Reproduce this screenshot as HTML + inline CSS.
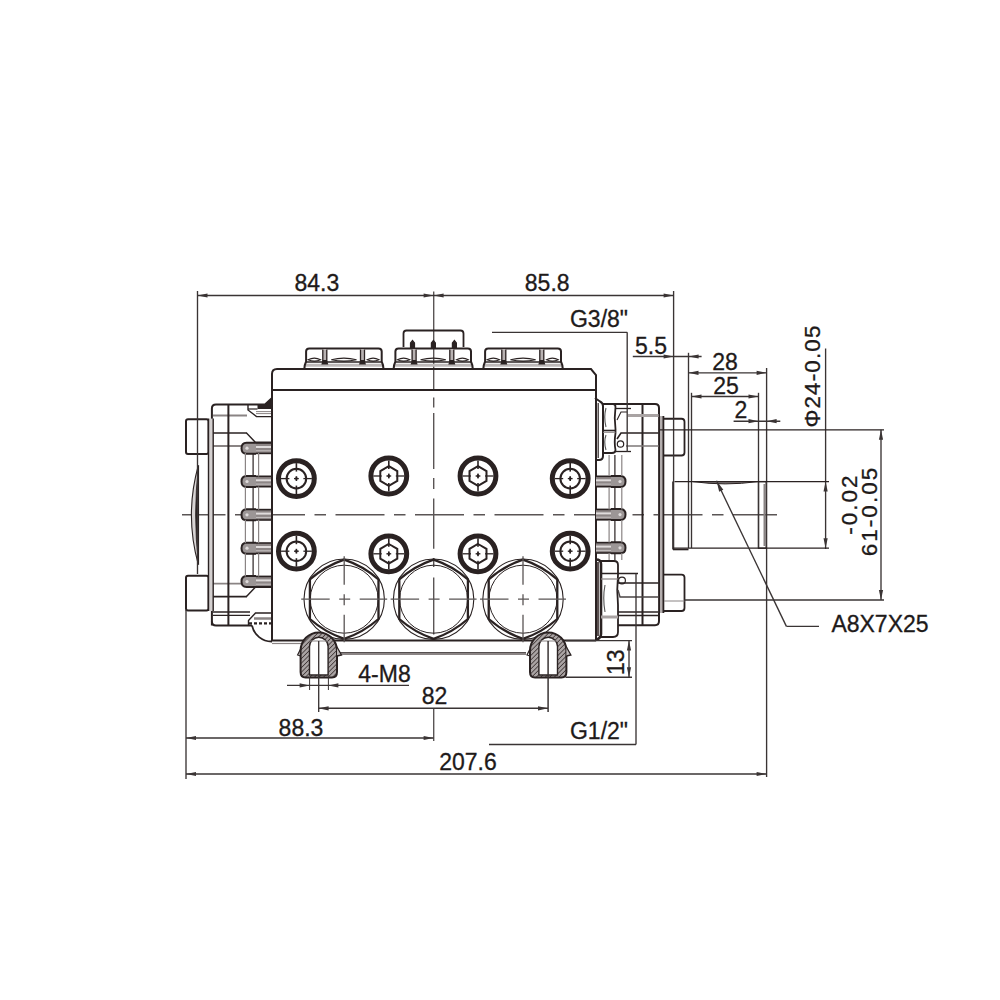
<!DOCTYPE html>
<html><head><meta charset="utf-8"><style>
html,body{margin:0;padding:0;background:#fff;width:1000px;height:1000px;overflow:hidden}
svg{display:block;font-family:"Liberation Sans",sans-serif}
</style></head><body>
<svg width="1000" height="1000" viewBox="0 0 1000 1000">
<rect width="1000" height="1000" fill="#fff"/>
<line x1="182.00" y1="514.80" x2="777.00" y2="514.80" stroke="#5a5555" stroke-width="1.4" stroke-dasharray="49 9.5 11.5 9.5" stroke-dashoffset="5.5"/>
<line x1="433.70" y1="291.60" x2="433.70" y2="390.00" stroke="#5a5555" stroke-width="1.4" />
<line x1="433.70" y1="397.50" x2="433.70" y2="407.50" stroke="#5a5555" stroke-width="1.4" />
<line x1="433.70" y1="413.00" x2="433.70" y2="469.00" stroke="#5a5555" stroke-width="1.4" />
<line x1="433.70" y1="478.00" x2="433.70" y2="489.00" stroke="#5a5555" stroke-width="1.4" />
<line x1="433.70" y1="498.40" x2="433.70" y2="548.80" stroke="#5a5555" stroke-width="1.4" />
<line x1="433.70" y1="558.00" x2="433.70" y2="567.00" stroke="#5a5555" stroke-width="1.4" />
<line x1="433.70" y1="577.40" x2="433.70" y2="634.40" stroke="#5a5555" stroke-width="1.4" />
<line x1="433.70" y1="708.40" x2="433.70" y2="741.00" stroke="#5a5555" stroke-width="1.4" />
<path d="M272 641 L272 374 Q272 369 277 369 L591 369 L596 375 L596 641" stroke="#2a2222" stroke-width="2.0" fill="none" />
<line x1="272.00" y1="390.00" x2="596.00" y2="390.00" stroke="#2a2222" stroke-width="2.0" />
<line x1="272.00" y1="640.50" x2="596.00" y2="640.50" stroke="#2a2222" stroke-width="2.0" />
<line x1="272.00" y1="643.50" x2="302.00" y2="643.50" stroke="#8a8484" stroke-width="1.2" />
<line x1="340.00" y1="654.00" x2="526.00" y2="654.00" stroke="#8a8484" stroke-width="2.0" />
<line x1="340.00" y1="652.50" x2="526.00" y2="652.50" stroke="#2a2222" stroke-width="0.8" />
<line x1="305.80" y1="365.20" x2="382.00" y2="365.20" stroke="#bdb8b8" stroke-width="3.0" />
<path d="M304.3 369 Q304.6 364.5 306.1 361.5 L306.1 351.5 Q306.1 348.5 309.3 348.5 L378.5 348.5 Q381.7 348.5 381.7 351.5 L381.7 361.5 Q383.2 364.5 383.5 369" stroke="#2a2222" stroke-width="2.0" fill="none" />
<line x1="306.10" y1="362.00" x2="381.70" y2="362.00" stroke="#2a2222" stroke-width="1.4" />
<rect x="322.6" y="349" width="4.4" height="13" fill="#b8b2b2"/>
<line x1="322.80" y1="349.50" x2="322.80" y2="362.00" stroke="#2a2222" stroke-width="1.3" />
<line x1="326.80" y1="349.50" x2="326.80" y2="362.00" stroke="#2a2222" stroke-width="1.3" />
<path d="M321.3 364.5 L328.3 364.5 L326.8 360 L322.8 360 Z" fill="#2a2222"/>
<rect x="360.3" y="349" width="4.4" height="13" fill="#b8b2b2"/>
<line x1="360.50" y1="349.50" x2="360.50" y2="362.00" stroke="#2a2222" stroke-width="1.3" />
<line x1="364.50" y1="349.50" x2="364.50" y2="362.00" stroke="#2a2222" stroke-width="1.3" />
<path d="M359.0 364.5 L366.0 364.5 L364.5 360 L360.5 360 Z" fill="#2a2222"/>
<path d="M308.1 359.8 Q314.3 356.4 320.5 359.8 Q314.3 362.4 308.1 359.8 Z" stroke="#2a2222" stroke-width="1.1" fill="none"/>
<path d="M331.29999999999995 359.8 Q343.9 356.4 356.5 359.8 Q343.9 362.4 331.29999999999995 359.8 Z" stroke="#2a2222" stroke-width="1.1" fill="none"/>
<path d="M367.20000000000005 359.8 Q373.1 356.4 379.0 359.8 Q373.1 362.4 367.20000000000005 359.8 Z" stroke="#2a2222" stroke-width="1.1" fill="none"/>
<line x1="395.10" y1="365.20" x2="471.30" y2="365.20" stroke="#bdb8b8" stroke-width="3.0" />
<path d="M393.6 369 Q393.90000000000003 364.5 395.40000000000003 361.5 L395.40000000000003 351.5 Q395.40000000000003 348.5 398.6 348.5 L467.8 348.5 Q471.0 348.5 471.0 351.5 L471.0 361.5 Q472.5 364.5 472.8 369" stroke="#2a2222" stroke-width="2.0" fill="none" />
<line x1="395.40" y1="362.00" x2="471.00" y2="362.00" stroke="#2a2222" stroke-width="1.4" />
<rect x="411.90000000000003" y="349" width="4.4" height="13" fill="#b8b2b2"/>
<line x1="412.10" y1="349.50" x2="412.10" y2="362.00" stroke="#2a2222" stroke-width="1.3" />
<line x1="416.10" y1="349.50" x2="416.10" y2="362.00" stroke="#2a2222" stroke-width="1.3" />
<path d="M410.6 364.5 L417.6 364.5 L416.1 360 L412.1 360 Z" fill="#2a2222"/>
<rect x="449.6" y="349" width="4.4" height="13" fill="#b8b2b2"/>
<line x1="449.80" y1="349.50" x2="449.80" y2="362.00" stroke="#2a2222" stroke-width="1.3" />
<line x1="453.80" y1="349.50" x2="453.80" y2="362.00" stroke="#2a2222" stroke-width="1.3" />
<path d="M448.3 364.5 L455.3 364.5 L453.8 360 L449.8 360 Z" fill="#2a2222"/>
<path d="M397.40000000000003 359.8 Q403.6 356.4 409.8 359.8 Q403.6 362.4 397.40000000000003 359.8 Z" stroke="#2a2222" stroke-width="1.1" fill="none"/>
<path d="M420.6 359.8 Q433.20000000000005 356.4 445.80000000000007 359.8 Q433.20000000000005 362.4 420.6 359.8 Z" stroke="#2a2222" stroke-width="1.1" fill="none"/>
<path d="M456.50000000000006 359.8 Q462.40000000000003 356.4 468.3 359.8 Q462.40000000000003 362.4 456.50000000000006 359.8 Z" stroke="#2a2222" stroke-width="1.1" fill="none"/>
<line x1="484.80" y1="365.20" x2="561.30" y2="365.20" stroke="#bdb8b8" stroke-width="3.0" />
<path d="M483.3 369 Q483.6 364.5 485.1 361.5 L485.1 351.5 Q485.1 348.5 488.3 348.5 L557.8 348.5 Q561.0 348.5 561.0 351.5 L561.0 361.5 Q562.5 364.5 562.8 369" stroke="#2a2222" stroke-width="2.0" fill="none" />
<line x1="485.10" y1="362.00" x2="561.00" y2="362.00" stroke="#2a2222" stroke-width="1.4" />
<rect x="501.6" y="349" width="4.4" height="13" fill="#b8b2b2"/>
<line x1="501.80" y1="349.50" x2="501.80" y2="362.00" stroke="#2a2222" stroke-width="1.3" />
<line x1="505.80" y1="349.50" x2="505.80" y2="362.00" stroke="#2a2222" stroke-width="1.3" />
<path d="M500.3 364.5 L507.3 364.5 L505.8 360 L501.8 360 Z" fill="#2a2222"/>
<rect x="539.5999999999999" y="349" width="4.4" height="13" fill="#b8b2b2"/>
<line x1="539.80" y1="349.50" x2="539.80" y2="362.00" stroke="#2a2222" stroke-width="1.3" />
<line x1="543.80" y1="349.50" x2="543.80" y2="362.00" stroke="#2a2222" stroke-width="1.3" />
<path d="M538.3 364.5 L545.3 364.5 L543.8 360 L539.8 360 Z" fill="#2a2222"/>
<path d="M487.1 359.8 Q493.3 356.4 499.5 359.8 Q493.3 362.4 487.1 359.8 Z" stroke="#2a2222" stroke-width="1.1" fill="none"/>
<path d="M510.44999999999993 359.8 Q523.05 356.4 535.65 359.8 Q523.05 362.4 510.44999999999993 359.8 Z" stroke="#2a2222" stroke-width="1.1" fill="none"/>
<path d="M546.5 359.8 Q552.4 356.4 558.3 359.8 Q552.4 362.4 546.5 359.8 Z" stroke="#2a2222" stroke-width="1.1" fill="none"/>
<path d="M403.5 347 L403.5 333.5 Q403.5 330.5 406.5 330.5 L460.5 330.5 Q463.5 330.5 463.5 333.5 L463.5 347" stroke="#2a2222" stroke-width="1.8" fill="none" />
<path d="M410.5 348 L410.5 343 L412.5 340.5 L414.5 343 L414.5 348 Z" stroke="#2a2222" stroke-width="1.2" fill="#2a2222" />
<path d="M431.4 348 L431.4 343 L433.4 340.5 L435.4 343 L435.4 348 Z" stroke="#2a2222" stroke-width="1.2" fill="#2a2222" />
<path d="M452.4 348 L452.4 343 L454.4 340.5 L456.4 343 L456.4 348 Z" stroke="#2a2222" stroke-width="1.2" fill="#2a2222" />
<circle cx="296.40" cy="478.60" r="17.90" stroke="#2a2222" stroke-width="5.0" fill="none"/>
<circle cx="296.40" cy="478.60" r="9.80" stroke="#2a2222" stroke-width="2.0" fill="none"/>
<line x1="296.40" y1="463.10" x2="296.40" y2="494.10" stroke="#2a2222" stroke-width="1.6" />
<line x1="280.90" y1="478.60" x2="311.90" y2="478.60" stroke="#2a2222" stroke-width="1.3" />
<path d="M296.4 476.6 L298.0 478.6 L296.4 480.6 L294.79999999999995 478.6 Z" fill="#2a2222"/>
<rect x="293.4" y="471.6" width="6" height="4.6" fill="#fff"/>
<rect x="293.4" y="481.0" width="6" height="4.6" fill="#fff"/>
<rect x="289.4" y="475.6" width="4.6" height="6" fill="#fff"/>
<rect x="298.79999999999995" y="475.6" width="4.6" height="6" fill="#fff"/>
<circle cx="296.40" cy="551.20" r="17.90" stroke="#2a2222" stroke-width="5.0" fill="none"/>
<circle cx="296.40" cy="551.20" r="9.80" stroke="#2a2222" stroke-width="2.0" fill="none"/>
<line x1="296.40" y1="535.70" x2="296.40" y2="566.70" stroke="#2a2222" stroke-width="1.6" />
<line x1="280.90" y1="551.20" x2="311.90" y2="551.20" stroke="#2a2222" stroke-width="1.3" />
<path d="M296.4 549.2 L298.0 551.2 L296.4 553.2 L294.79999999999995 551.2 Z" fill="#2a2222"/>
<rect x="293.4" y="544.2" width="6" height="4.6" fill="#fff"/>
<rect x="293.4" y="553.6" width="6" height="4.6" fill="#fff"/>
<rect x="289.4" y="548.2" width="4.6" height="6" fill="#fff"/>
<rect x="298.79999999999995" y="548.2" width="4.6" height="6" fill="#fff"/>
<circle cx="570.20" cy="478.60" r="17.90" stroke="#2a2222" stroke-width="5.0" fill="none"/>
<circle cx="570.20" cy="478.60" r="9.80" stroke="#2a2222" stroke-width="2.0" fill="none"/>
<line x1="570.20" y1="463.10" x2="570.20" y2="494.10" stroke="#2a2222" stroke-width="1.6" />
<line x1="554.70" y1="478.60" x2="585.70" y2="478.60" stroke="#2a2222" stroke-width="1.3" />
<path d="M570.2 476.6 L571.8000000000001 478.6 L570.2 480.6 L568.6 478.6 Z" fill="#2a2222"/>
<rect x="567.2" y="471.6" width="6" height="4.6" fill="#fff"/>
<rect x="567.2" y="481.0" width="6" height="4.6" fill="#fff"/>
<rect x="563.2" y="475.6" width="4.6" height="6" fill="#fff"/>
<rect x="572.6" y="475.6" width="4.6" height="6" fill="#fff"/>
<circle cx="570.20" cy="551.20" r="17.90" stroke="#2a2222" stroke-width="5.0" fill="none"/>
<circle cx="570.20" cy="551.20" r="9.80" stroke="#2a2222" stroke-width="2.0" fill="none"/>
<line x1="570.20" y1="535.70" x2="570.20" y2="566.70" stroke="#2a2222" stroke-width="1.6" />
<line x1="554.70" y1="551.20" x2="585.70" y2="551.20" stroke="#2a2222" stroke-width="1.3" />
<path d="M570.2 549.2 L571.8000000000001 551.2 L570.2 553.2 L568.6 551.2 Z" fill="#2a2222"/>
<rect x="567.2" y="544.2" width="6" height="4.6" fill="#fff"/>
<rect x="567.2" y="553.6" width="6" height="4.6" fill="#fff"/>
<rect x="563.2" y="548.2" width="4.6" height="6" fill="#fff"/>
<rect x="572.6" y="548.2" width="4.6" height="6" fill="#fff"/>
<circle cx="388.80" cy="476.00" r="17.90" stroke="#2a2222" stroke-width="5.0" fill="none"/>
<path d="M388.80 466.20 L397.29 471.10 L397.29 480.90 L388.80 485.80 L380.31 480.90 L380.31 471.10 Z" stroke="#2a2222" stroke-width="2.0" fill="none" />
<line x1="388.80" y1="460.50" x2="388.80" y2="491.50" stroke="#2a2222" stroke-width="1.6" />
<line x1="373.30" y1="476.00" x2="404.30" y2="476.00" stroke="#2a2222" stroke-width="1.3" />
<path d="M388.8 474.0 L390.40000000000003 476.0 L388.8 478.0 L387.2 476.0 Z" fill="#2a2222"/>
<rect x="385.8" y="469.0" width="6" height="4.6" fill="#fff"/>
<rect x="385.8" y="478.4" width="6" height="4.6" fill="#fff"/>
<rect x="381.8" y="473.0" width="4.6" height="6" fill="#fff"/>
<rect x="391.2" y="473.0" width="4.6" height="6" fill="#fff"/>
<circle cx="388.80" cy="553.80" r="17.90" stroke="#2a2222" stroke-width="5.0" fill="none"/>
<path d="M388.80 544.00 L397.29 548.90 L397.29 558.70 L388.80 563.60 L380.31 558.70 L380.31 548.90 Z" stroke="#2a2222" stroke-width="2.0" fill="none" />
<line x1="388.80" y1="538.30" x2="388.80" y2="569.30" stroke="#2a2222" stroke-width="1.6" />
<line x1="373.30" y1="553.80" x2="404.30" y2="553.80" stroke="#2a2222" stroke-width="1.3" />
<path d="M388.8 551.8 L390.40000000000003 553.8 L388.8 555.8 L387.2 553.8 Z" fill="#2a2222"/>
<rect x="385.8" y="546.8" width="6" height="4.6" fill="#fff"/>
<rect x="385.8" y="556.1999999999999" width="6" height="4.6" fill="#fff"/>
<rect x="381.8" y="550.8" width="4.6" height="6" fill="#fff"/>
<rect x="391.2" y="550.8" width="4.6" height="6" fill="#fff"/>
<circle cx="478.00" cy="476.00" r="17.90" stroke="#2a2222" stroke-width="5.0" fill="none"/>
<path d="M478.00 466.20 L486.49 471.10 L486.49 480.90 L478.00 485.80 L469.51 480.90 L469.51 471.10 Z" stroke="#2a2222" stroke-width="2.0" fill="none" />
<line x1="478.00" y1="460.50" x2="478.00" y2="491.50" stroke="#2a2222" stroke-width="1.6" />
<line x1="462.50" y1="476.00" x2="493.50" y2="476.00" stroke="#2a2222" stroke-width="1.3" />
<path d="M478.0 474.0 L479.6 476.0 L478.0 478.0 L476.4 476.0 Z" fill="#2a2222"/>
<rect x="475.0" y="469.0" width="6" height="4.6" fill="#fff"/>
<rect x="475.0" y="478.4" width="6" height="4.6" fill="#fff"/>
<rect x="471.0" y="473.0" width="4.6" height="6" fill="#fff"/>
<rect x="480.4" y="473.0" width="4.6" height="6" fill="#fff"/>
<circle cx="478.00" cy="553.80" r="17.90" stroke="#2a2222" stroke-width="5.0" fill="none"/>
<path d="M478.00 544.00 L486.49 548.90 L486.49 558.70 L478.00 563.60 L469.51 558.70 L469.51 548.90 Z" stroke="#2a2222" stroke-width="2.0" fill="none" />
<line x1="478.00" y1="538.30" x2="478.00" y2="569.30" stroke="#2a2222" stroke-width="1.6" />
<line x1="462.50" y1="553.80" x2="493.50" y2="553.80" stroke="#2a2222" stroke-width="1.3" />
<path d="M478.0 551.8 L479.6 553.8 L478.0 555.8 L476.4 553.8 Z" fill="#2a2222"/>
<rect x="475.0" y="546.8" width="6" height="4.6" fill="#fff"/>
<rect x="475.0" y="556.1999999999999" width="6" height="4.6" fill="#fff"/>
<rect x="471.0" y="550.8" width="4.6" height="6" fill="#fff"/>
<rect x="480.4" y="550.8" width="4.6" height="6" fill="#fff"/>
<circle cx="344.20" cy="599.20" r="40.20" stroke="#2a2222" stroke-width="1.1" fill="none"/>
<path d="M344.20 559.60 Q363.35 566.04 378.49 579.40 Q378.49 599.20 378.49 619.00 Q363.35 632.36 344.20 638.80 Q325.05 632.36 309.91 619.00 Q309.91 599.20 309.91 579.40 Q325.05 566.04 344.20 559.60 Z" stroke="#2a2222" stroke-width="2.3" fill="none" />
<circle cx="344.20" cy="599.20" r="34.00" stroke="#2a2222" stroke-width="1.0" fill="none"/>
<line x1="301.20" y1="599.20" x2="387.20" y2="599.20" stroke="#5a5555" stroke-width="1.3" stroke-dasharray="28.5 9.5 11 9.5"/>
<line x1="344.20" y1="556.20" x2="344.20" y2="642.20" stroke="#5a5555" stroke-width="1.3" stroke-dasharray="28.5 9.5 11 9.5"/>
<circle cx="433.60" cy="599.20" r="40.20" stroke="#2a2222" stroke-width="1.1" fill="none"/>
<path d="M433.60 559.60 Q452.75 566.04 467.89 579.40 Q467.89 599.20 467.89 619.00 Q452.75 632.36 433.60 638.80 Q414.45 632.36 399.31 619.00 Q399.31 599.20 399.31 579.40 Q414.45 566.04 433.60 559.60 Z" stroke="#2a2222" stroke-width="2.3" fill="none" />
<circle cx="433.60" cy="599.20" r="34.00" stroke="#2a2222" stroke-width="1.0" fill="none"/>
<line x1="390.60" y1="599.20" x2="476.60" y2="599.20" stroke="#5a5555" stroke-width="1.3" stroke-dasharray="28.5 9.5 11 9.5"/>
<circle cx="523.00" cy="599.20" r="40.20" stroke="#2a2222" stroke-width="1.1" fill="none"/>
<path d="M523.00 559.60 Q542.15 566.04 557.29 579.40 Q557.29 599.20 557.29 619.00 Q542.15 632.36 523.00 638.80 Q503.85 632.36 488.71 619.00 Q488.71 599.20 488.71 579.40 Q503.85 566.04 523.00 559.60 Z" stroke="#2a2222" stroke-width="2.3" fill="none" />
<circle cx="523.00" cy="599.20" r="34.00" stroke="#2a2222" stroke-width="1.0" fill="none"/>
<line x1="480.00" y1="599.20" x2="566.00" y2="599.20" stroke="#5a5555" stroke-width="1.3" stroke-dasharray="28.5 9.5 11 9.5"/>
<line x1="523.00" y1="556.20" x2="523.00" y2="642.20" stroke="#5a5555" stroke-width="1.3" stroke-dasharray="28.5 9.5 11 9.5"/>
<defs><pattern id="hatch" patternUnits="userSpaceOnUse" width="3.2" height="3.2" patternTransform="rotate(45)"><rect width="3.2" height="3.2" fill="#aaa4a4"/><line x1="0" y1="0" x2="0" y2="3.2" stroke="#3a3030" stroke-width="1.5"/></pattern></defs>
<path d="M300.6 672 L300.6 650.7 A18.2 18.2 0 0 1 337.0 650.7 L337.0 672 Q337.0 677.5 332.0 677.5 L305.6 677.5 Q300.6 677.5 300.6 672 Z" stroke="#2a2222" stroke-width="2.0" fill="url(#hatch)" />
<path d="M337.0 647 L341.5 655 L337.0 656" stroke="#2a2222" stroke-width="1.3" fill="#bdb8b8" />
<path d="M300.6 649 L297.6 655 L300.6 656" stroke="#2a2222" stroke-width="1.2" fill="none" />
<path d="M309.5 675 L309.5 646.5 A9.3 9.3 0 0 1 328.1 646.5 L328.1 675 Z" stroke="#2a2222" stroke-width="1.4" fill="#fff" />
<line x1="309.50" y1="641.00" x2="328.10" y2="641.00" stroke="#8a8484" stroke-width="1.0" />
<line x1="318.80" y1="641.00" x2="318.80" y2="712.00" stroke="#3a3434" stroke-width="1.0" />
<path d="M530.0 672 L530.0 650.7 A18.2 18.2 0 0 1 566.4000000000001 650.7 L566.4000000000001 672 Q566.4000000000001 677.5 561.4000000000001 677.5 L535.0 677.5 Q530.0 677.5 530.0 672 Z" stroke="#2a2222" stroke-width="2.0" fill="url(#hatch)" />
<path d="M566.4000000000001 647 L570.9000000000001 655 L566.4000000000001 656" stroke="#2a2222" stroke-width="1.3" fill="#bdb8b8" />
<path d="M530.0 649 L527.0 655 L530.0 656" stroke="#2a2222" stroke-width="1.2" fill="none" />
<path d="M538.9000000000001 675 L538.9000000000001 646.5 A9.3 9.3 0 0 1 557.5 646.5 L557.5 675 Z" stroke="#2a2222" stroke-width="1.4" fill="#fff" />
<line x1="538.90" y1="641.00" x2="557.50" y2="641.00" stroke="#8a8484" stroke-width="1.0" />
<line x1="548.20" y1="641.00" x2="548.20" y2="712.00" stroke="#3a3434" stroke-width="1.0" />
<rect x="186.00" y="419.20" width="22.50" height="34.70" rx="2" stroke="#2a2222" stroke-width="2.0" fill="none"/>
<line x1="213.00" y1="415.40" x2="247.00" y2="415.40" stroke="#8a8484" stroke-width="2.0" />
<line x1="213.00" y1="433.00" x2="247.00" y2="433.00" stroke="#2a2222" stroke-width="1.6" />
<line x1="213.00" y1="446.00" x2="247.00" y2="446.00" stroke="#8a8484" stroke-width="1.8" />
<path d="M246.5 433 L255.3 442.3 L271 442.3" stroke="#2a2222" stroke-width="1.4" fill="none" />
<path d="M257.5 404.4 L265 404.4 L271.5 398.6 L271.5 409 L257.5 409 Z" fill="#2a2222"/>
<path d="M248 404.4 L248 410 L256.5 416.6 L271 416.6" stroke="#2a2222" stroke-width="1.4" fill="none" />
<line x1="248.00" y1="409.00" x2="257.50" y2="409.00" stroke="#2a2222" stroke-width="1.2" />
<line x1="256.00" y1="411.60" x2="271.00" y2="411.60" stroke="#8a8484" stroke-width="1.0" />
<line x1="256.00" y1="413.60" x2="271.00" y2="413.60" stroke="#8a8484" stroke-width="1.0" />
<rect x="186.00" y="575.70" width="22.50" height="34.70" rx="2" stroke="#2a2222" stroke-width="2.0" fill="none"/>
<line x1="213.00" y1="596.60" x2="247.00" y2="596.60" stroke="#2a2222" stroke-width="1.6" />
<line x1="213.00" y1="583.60" x2="247.00" y2="583.60" stroke="#8a8484" stroke-width="1.8" />
<path d="M246.5 596.5999999999999 L255.3 587.3 L271 587.3" stroke="#2a2222" stroke-width="1.4" fill="none" />
<line x1="213.00" y1="612.00" x2="250.00" y2="612.00" stroke="#2a2222" stroke-width="1.6" />
<line x1="213.00" y1="615.30" x2="250.00" y2="615.30" stroke="#2a2222" stroke-width="1.3" />
<path d="M271 613 L255.5 613 L248.5 620.5 L248.5 625.5" stroke="#2a2222" stroke-width="1.4" fill="none" />
<line x1="254.00" y1="618.50" x2="271.00" y2="618.50" stroke="#8a8484" stroke-width="2.5" />
<line x1="249.00" y1="623.30" x2="271.00" y2="623.30" stroke="#2a2222" stroke-width="2.2" stroke-dasharray="3 2"/>
<path d="M211.9 625.5 L211.9 408.5 Q211.9 404.4 216 404.4 L265 404.4 L271.5 398.6" stroke="#2a2222" stroke-width="2.0" fill="none" />
<path d="M211.9 621.5 Q211.9 625.5 216 625.5 L252 625.5" stroke="#2a2222" stroke-width="2.0" fill="none" />
<rect x="208.5" y="418.6" width="4.7" height="192.4" fill="#d4d0d0"/>
<line x1="208.50" y1="418.60" x2="208.50" y2="611.00" stroke="#2a2222" stroke-width="1.4" />
<line x1="213.20" y1="418.60" x2="213.20" y2="611.00" stroke="#2a2222" stroke-width="1.4" />
<line x1="228.40" y1="404.40" x2="228.40" y2="625.50" stroke="#2a2222" stroke-width="2.0" />
<path d="M252 625.5 A20 20 0 0 0 272 641.5" stroke="#2a2222" stroke-width="1.8" fill="none" />
<rect x="254" y="443.0" width="17" height="10.4" fill="#8d8686"/>
<line x1="254.00" y1="443.00" x2="271.00" y2="443.00" stroke="#2a2222" stroke-width="1.6" />
<line x1="254.00" y1="453.40" x2="271.00" y2="453.40" stroke="#2a2222" stroke-width="1.6" />
<line x1="250.00" y1="447.00" x2="271.00" y2="447.00" stroke="#e0dcdc" stroke-width="2.0" />
<line x1="256.00" y1="450.80" x2="271.00" y2="450.80" stroke="#c8c4c4" stroke-width="1.0" />
<path d="M256 442.7 L246.5 442.7 Q241.5 442.7 241.5 448.2 Q241.5 453.7 246.5 453.7 L256 453.7" stroke="#2a2222" stroke-width="2.0" fill="#9c9696" />
<circle cx="247" cy="448.2" r="1.6" fill="#e0dcdc"/>
<rect x="254" y="476.3" width="17" height="10.4" fill="#8d8686"/>
<line x1="254.00" y1="476.30" x2="271.00" y2="476.30" stroke="#2a2222" stroke-width="1.6" />
<line x1="254.00" y1="486.70" x2="271.00" y2="486.70" stroke="#2a2222" stroke-width="1.6" />
<line x1="250.00" y1="480.30" x2="271.00" y2="480.30" stroke="#e0dcdc" stroke-width="2.0" />
<line x1="256.00" y1="484.10" x2="271.00" y2="484.10" stroke="#c8c4c4" stroke-width="1.0" />
<path d="M256 476.0 L246.5 476.0 Q241.5 476.0 241.5 481.5 Q241.5 487.0 246.5 487.0 L256 487.0" stroke="#2a2222" stroke-width="2.0" fill="#9c9696" />
<circle cx="247" cy="481.5" r="1.6" fill="#e0dcdc"/>
<rect x="254" y="509.59999999999997" width="17" height="10.4" fill="#8d8686"/>
<line x1="254.00" y1="509.60" x2="271.00" y2="509.60" stroke="#2a2222" stroke-width="1.6" />
<line x1="254.00" y1="520.00" x2="271.00" y2="520.00" stroke="#2a2222" stroke-width="1.6" />
<line x1="250.00" y1="513.60" x2="271.00" y2="513.60" stroke="#e0dcdc" stroke-width="2.0" />
<line x1="256.00" y1="517.40" x2="271.00" y2="517.40" stroke="#c8c4c4" stroke-width="1.0" />
<path d="M256 509.29999999999995 L246.5 509.29999999999995 Q241.5 509.29999999999995 241.5 514.8 Q241.5 520.3 246.5 520.3 L256 520.3" stroke="#2a2222" stroke-width="2.0" fill="#9c9696" />
<circle cx="247" cy="514.8" r="1.6" fill="#e0dcdc"/>
<rect x="254" y="543.0" width="17" height="10.4" fill="#8d8686"/>
<line x1="254.00" y1="543.00" x2="271.00" y2="543.00" stroke="#2a2222" stroke-width="1.6" />
<line x1="254.00" y1="553.40" x2="271.00" y2="553.40" stroke="#2a2222" stroke-width="1.6" />
<line x1="250.00" y1="547.00" x2="271.00" y2="547.00" stroke="#e0dcdc" stroke-width="2.0" />
<line x1="256.00" y1="550.80" x2="271.00" y2="550.80" stroke="#c8c4c4" stroke-width="1.0" />
<path d="M256 542.7 L246.5 542.7 Q241.5 542.7 241.5 548.2 Q241.5 553.7 246.5 553.7 L256 553.7" stroke="#2a2222" stroke-width="2.0" fill="#9c9696" />
<circle cx="247" cy="548.2" r="1.6" fill="#e0dcdc"/>
<rect x="254" y="576.4" width="17" height="10.4" fill="#8d8686"/>
<line x1="254.00" y1="576.40" x2="271.00" y2="576.40" stroke="#2a2222" stroke-width="1.6" />
<line x1="254.00" y1="586.80" x2="271.00" y2="586.80" stroke="#2a2222" stroke-width="1.6" />
<line x1="250.00" y1="580.40" x2="271.00" y2="580.40" stroke="#e0dcdc" stroke-width="2.0" />
<line x1="256.00" y1="584.20" x2="271.00" y2="584.20" stroke="#c8c4c4" stroke-width="1.0" />
<path d="M256 576.1 L246.5 576.1 Q241.5 576.1 241.5 581.6 Q241.5 587.1 246.5 587.1 L256 587.1" stroke="#2a2222" stroke-width="2.0" fill="#9c9696" />
<circle cx="247" cy="581.6" r="1.6" fill="#e0dcdc"/>
<line x1="245.40" y1="453.00" x2="245.40" y2="476.50" stroke="#8a8484" stroke-width="1.2" />
<line x1="245.40" y1="486.50" x2="245.40" y2="509.80" stroke="#8a8484" stroke-width="1.2" />
<line x1="245.40" y1="519.80" x2="245.40" y2="543.20" stroke="#8a8484" stroke-width="1.2" />
<line x1="245.40" y1="553.20" x2="245.40" y2="576.60" stroke="#8a8484" stroke-width="1.2" />
<line x1="253.10" y1="453.00" x2="253.10" y2="476.50" stroke="#2a2222" stroke-width="1.2" />
<line x1="253.10" y1="486.50" x2="253.10" y2="509.80" stroke="#2a2222" stroke-width="1.2" />
<line x1="253.10" y1="519.80" x2="253.10" y2="543.20" stroke="#2a2222" stroke-width="1.2" />
<line x1="253.10" y1="553.20" x2="253.10" y2="576.60" stroke="#2a2222" stroke-width="1.2" />
<line x1="258.60" y1="453.00" x2="258.60" y2="476.50" stroke="#8a8484" stroke-width="1.2" />
<line x1="258.60" y1="486.50" x2="258.60" y2="509.80" stroke="#8a8484" stroke-width="1.2" />
<line x1="258.60" y1="519.80" x2="258.60" y2="543.20" stroke="#8a8484" stroke-width="1.2" />
<line x1="258.60" y1="553.20" x2="258.60" y2="576.60" stroke="#8a8484" stroke-width="1.2" />
<path d="M198.3 465.5 Q184.5 515 198.3 564.5 Z" stroke="#2a2222" stroke-width="1.1" fill="#d8d4d4" />
<path d="M198.6 465.5 Q192.6 515 198.6 564.5 Z" stroke="#2a2222" stroke-width="0.8" fill="#2a2222" />
<path d="M595 398 L600 401.5 Q603 403 603 406 L603 456 Q603 460 599 460 L596 460" stroke="#2a2222" stroke-width="2.0" fill="none" />
<line x1="598.20" y1="403.00" x2="598.20" y2="458.00" stroke="#2a2222" stroke-width="1.2" />
<path d="M603 404 L613 404 Q615.5 404 615.5 407 Q614 418 615.5 429 L615.5 433 Q614 443 615.5 450 Q615.5 453 612 453 L603 453" stroke="#2a2222" stroke-width="1.8" fill="none" />
<line x1="603.00" y1="430.50" x2="615.50" y2="430.50" stroke="#2a2222" stroke-width="1.6" />
<line x1="603.00" y1="432.30" x2="615.50" y2="432.30" stroke="#8a8484" stroke-width="1.0" />
<path d="M606 408 Q603.5 417 606 427" stroke="#555" stroke-width="1.1" fill="none"/>
<path d="M606 435 Q603.5 442 606 450" stroke="#555" stroke-width="1.1" fill="none"/>
<path d="M596 559.5 Q601 559.5 601 564 L601 634 Q601 638 596 640" stroke="#2a2222" stroke-width="2.6" fill="none" />
<line x1="598.00" y1="562.00" x2="598.00" y2="636.00" stroke="#5a5050" stroke-width="2.0" />
<path d="M601 561 L614 561 Q618 561 618 565 L618 575 Q616.5 590 618 605 L618 632 Q618 637 613 637 L601 637" stroke="#2a2222" stroke-width="1.8" fill="none" />
<path d="M605 585 Q602.5 598 605 612" stroke="#555" stroke-width="1.1" fill="none"/>
<line x1="601.00" y1="579.00" x2="618.00" y2="579.00" stroke="#8a8484" stroke-width="1.2" />
<line x1="601.00" y1="617.00" x2="618.00" y2="617.00" stroke="#a8a2a2" stroke-width="3.0" />
<path d="M603 404 L655 404 Q659 404 659 408 L659 621 Q659 625.2 655 625.2 L618 625.2" stroke="#2a2222" stroke-width="2.0" fill="none" />
<line x1="642.50" y1="404.00" x2="642.50" y2="625.20" stroke="#2a2222" stroke-width="2.0" />
<rect x="658.6" y="416" width="5" height="197" fill="#b4aeae"/>
<line x1="659.20" y1="408.00" x2="659.20" y2="621.00" stroke="#2a2222" stroke-width="1.6" />
<line x1="663.40" y1="416.00" x2="663.40" y2="613.00" stroke="#2a2222" stroke-width="1.8" />
<line x1="615.50" y1="408.50" x2="631.00" y2="408.50" stroke="#2a2222" stroke-width="1.3" />
<line x1="628.00" y1="415.50" x2="658.60" y2="415.50" stroke="#a9a3a3" stroke-width="3.0" />
<path d="M617 420 L621 412 L627 412" stroke="#2a2222" stroke-width="1.1" fill="none" />
<path d="M617 439 L621 433 L658.6 433" stroke="#2a2222" stroke-width="1.6" fill="none" />
<line x1="626.00" y1="446.00" x2="658.60" y2="446.00" stroke="#7d7777" stroke-width="1.6" />
<line x1="615.50" y1="451.50" x2="631.00" y2="451.50" stroke="#2a2222" stroke-width="1.3" />
<circle cx="620.50" cy="444.00" r="3.20" stroke="#2a2222" stroke-width="1.2" fill="none"/>
<line x1="601.00" y1="573.50" x2="638.00" y2="573.50" stroke="#2a2222" stroke-width="1.6" />
<line x1="618.00" y1="583.00" x2="658.60" y2="583.00" stroke="#2a2222" stroke-width="1.6" />
<path d="M618 590 L620 597 L658.6 597" stroke="#4a4444" stroke-width="1.4" fill="none" />
<line x1="618.00" y1="612.00" x2="658.60" y2="612.00" stroke="#2a2222" stroke-width="1.5" />
<line x1="618.00" y1="615.50" x2="658.60" y2="615.50" stroke="#2a2222" stroke-width="1.3" />
<circle cx="622.00" cy="580.50" r="3.40" stroke="#2a2222" stroke-width="1.2" fill="none"/>
<path d="M664 418.75 L681.5 418.75 Q684.5 418.75 684.5 421.75 L684.5 452.5 Q684.5 455.5 681.5 455.5 L664 455.5" stroke="#2a2222" stroke-width="1.8" fill="none" />
<path d="M664 574.6 L681.5 574.6 Q684.5 574.6 684.5 577.6 L684.5 608 Q684.5 611 681.5 611 L664 611" stroke="#2a2222" stroke-width="1.8" fill="none" />
<line x1="664.00" y1="601.00" x2="684.50" y2="601.00" stroke="#8a8484" stroke-width="1.0" />
<rect x="596" y="476.3" width="17" height="10.4" fill="#8d8686"/>
<line x1="596.00" y1="476.30" x2="613.00" y2="476.30" stroke="#2a2222" stroke-width="1.6" />
<line x1="596.00" y1="486.70" x2="613.00" y2="486.70" stroke="#2a2222" stroke-width="1.6" />
<line x1="596.00" y1="480.30" x2="617.00" y2="480.30" stroke="#e0dcdc" stroke-width="2.0" />
<line x1="596.00" y1="484.10" x2="611.00" y2="484.10" stroke="#c8c4c4" stroke-width="1.0" />
<path d="M611 476.0 L620.5 476.0 Q625.5 476.0 625.5 481.5 Q625.5 487.0 620.5 487.0 L611 487.0" stroke="#2a2222" stroke-width="2.0" fill="#9c9696" />
<circle cx="620" cy="481.5" r="1.6" fill="#e0dcdc"/>
<rect x="596" y="509.40000000000003" width="17" height="10.4" fill="#8d8686"/>
<line x1="596.00" y1="509.40" x2="613.00" y2="509.40" stroke="#2a2222" stroke-width="1.6" />
<line x1="596.00" y1="519.80" x2="613.00" y2="519.80" stroke="#2a2222" stroke-width="1.6" />
<line x1="596.00" y1="513.40" x2="617.00" y2="513.40" stroke="#e0dcdc" stroke-width="2.0" />
<line x1="596.00" y1="517.20" x2="611.00" y2="517.20" stroke="#c8c4c4" stroke-width="1.0" />
<path d="M611 509.1 L620.5 509.1 Q625.5 509.1 625.5 514.6 Q625.5 520.1 620.5 520.1 L611 520.1" stroke="#2a2222" stroke-width="2.0" fill="#9c9696" />
<circle cx="620" cy="514.6" r="1.6" fill="#e0dcdc"/>
<rect x="596" y="542.5999999999999" width="17" height="10.4" fill="#8d8686"/>
<line x1="596.00" y1="542.60" x2="613.00" y2="542.60" stroke="#2a2222" stroke-width="1.6" />
<line x1="596.00" y1="553.00" x2="613.00" y2="553.00" stroke="#2a2222" stroke-width="1.6" />
<line x1="596.00" y1="546.60" x2="617.00" y2="546.60" stroke="#e0dcdc" stroke-width="2.0" />
<line x1="596.00" y1="550.40" x2="611.00" y2="550.40" stroke="#c8c4c4" stroke-width="1.0" />
<path d="M611 542.3 L620.5 542.3 Q625.5 542.3 625.5 547.8 Q625.5 553.3 620.5 553.3 L611 553.3" stroke="#2a2222" stroke-width="2.0" fill="#9c9696" />
<circle cx="620" cy="547.8" r="1.6" fill="#e0dcdc"/>
<line x1="609.10" y1="455.00" x2="609.10" y2="476.00" stroke="#8a8484" stroke-width="1.2" />
<line x1="609.10" y1="487.00" x2="609.10" y2="509.40" stroke="#8a8484" stroke-width="1.2" />
<line x1="609.10" y1="520.00" x2="609.10" y2="542.60" stroke="#8a8484" stroke-width="1.2" />
<line x1="609.10" y1="553.00" x2="609.10" y2="560.00" stroke="#8a8484" stroke-width="1.2" />
<line x1="614.90" y1="455.00" x2="614.90" y2="476.00" stroke="#2a2222" stroke-width="1.2" />
<line x1="614.90" y1="487.00" x2="614.90" y2="509.40" stroke="#2a2222" stroke-width="1.2" />
<line x1="614.90" y1="520.00" x2="614.90" y2="542.60" stroke="#2a2222" stroke-width="1.2" />
<line x1="614.90" y1="553.00" x2="614.90" y2="560.00" stroke="#2a2222" stroke-width="1.2" />
<line x1="621.80" y1="455.00" x2="621.80" y2="476.00" stroke="#8a8484" stroke-width="1.2" />
<line x1="621.80" y1="487.00" x2="621.80" y2="509.40" stroke="#8a8484" stroke-width="1.2" />
<line x1="621.80" y1="520.00" x2="621.80" y2="542.60" stroke="#8a8484" stroke-width="1.2" />
<line x1="621.80" y1="553.00" x2="621.80" y2="560.00" stroke="#8a8484" stroke-width="1.2" />
<line x1="673.00" y1="481.60" x2="673.00" y2="549.50" stroke="#2a2222" stroke-width="1.6" />
<line x1="673.00" y1="549.50" x2="688.50" y2="549.50" stroke="#2a2222" stroke-width="1.6" />
<path d="M693 481.6 Q725 486.2 757.8 481.6 Z" stroke="#2a2222" stroke-width="1.0" fill="#8a8484" />
<rect x="758.50" y="481.60" width="7.70" height="66.60" rx="0" stroke="#2a2222" stroke-width="1.3" fill="none"/>
<line x1="764.50" y1="484.00" x2="764.50" y2="546.00" stroke="#8a8484" stroke-width="2.0" />
<line x1="197.50" y1="295.50" x2="673.60" y2="295.50" stroke="#3a3434" stroke-width="1.45" />
<path d="M197.50 295.50 L207.50 293.40 L207.50 297.60 Z" fill="#3a3434"/>
<path d="M433.60 295.50 L423.60 297.60 L423.60 293.40 Z" fill="#3a3434"/>
<path d="M433.60 295.50 L443.60 293.40 L443.60 297.60 Z" fill="#3a3434"/>
<path d="M673.60 295.50 L663.60 297.60 L663.60 293.40 Z" fill="#3a3434"/>
<line x1="197.50" y1="291.00" x2="197.50" y2="574.00" stroke="#3a3434" stroke-width="1.35" />
<line x1="673.60" y1="291.00" x2="673.60" y2="549.00" stroke="#3a3434" stroke-width="1.35" />
<text x="316.8" y="291" font-size="23" text-anchor="middle" fill="#1e1a1a" stroke="#1e1a1a" stroke-width="0.3">84.3</text>
<text x="547.2" y="291" font-size="23" text-anchor="middle" fill="#1e1a1a" stroke="#1e1a1a" stroke-width="0.3">85.8</text>
<line x1="492.00" y1="332.30" x2="627.20" y2="332.30" stroke="#3a3434" stroke-width="1.35" />
<line x1="627.20" y1="332.30" x2="627.20" y2="452.00" stroke="#3a3434" stroke-width="1.35" />
<text x="599" y="327" font-size="23" text-anchor="middle" fill="#1e1a1a" stroke="#1e1a1a" stroke-width="0.3">G3/8"</text>
<line x1="632.80" y1="356.50" x2="701.60" y2="356.50" stroke="#3a3434" stroke-width="1.35" />
<path d="M673.60 356.50 L663.60 358.60 L663.60 354.40 Z" fill="#3a3434"/>
<path d="M688.60 356.50 L698.60 354.40 L698.60 358.60 Z" fill="#3a3434"/>
<text x="651" y="353.5" font-size="23" text-anchor="middle" fill="#1e1a1a" stroke="#1e1a1a" stroke-width="0.3">5.5</text>
<line x1="688.50" y1="352.80" x2="688.50" y2="548.00" stroke="#3a3434" stroke-width="1.35" />
<line x1="766.60" y1="368.00" x2="766.60" y2="777.00" stroke="#3a3434" stroke-width="1.35" />
<line x1="688.50" y1="372.80" x2="766.60" y2="372.80" stroke="#3a3434" stroke-width="1.35" />
<path d="M688.50 372.80 L698.50 370.70 L698.50 374.90 Z" fill="#3a3434"/>
<path d="M766.60 372.80 L756.60 374.90 L756.60 370.70 Z" fill="#3a3434"/>
<text x="725" y="369.5" font-size="23" text-anchor="middle" fill="#1e1a1a" stroke="#1e1a1a" stroke-width="0.3">28</text>
<line x1="691.50" y1="392.80" x2="691.50" y2="548.00" stroke="#3a3434" stroke-width="1.35" />
<line x1="758.50" y1="392.80" x2="758.50" y2="548.00" stroke="#3a3434" stroke-width="1.35" />
<line x1="691.50" y1="396.50" x2="758.50" y2="396.50" stroke="#3a3434" stroke-width="1.35" />
<path d="M691.50 396.50 L701.50 394.40 L701.50 398.60 Z" fill="#3a3434"/>
<path d="M758.50 396.50 L748.50 398.60 L748.50 394.40 Z" fill="#3a3434"/>
<text x="726" y="393.5" font-size="23" text-anchor="middle" fill="#1e1a1a" stroke="#1e1a1a" stroke-width="0.3">25</text>
<line x1="733.60" y1="421.20" x2="780.30" y2="421.20" stroke="#3a3434" stroke-width="1.35" />
<path d="M758.50 421.20 L748.50 423.30 L748.50 419.10 Z" fill="#3a3434"/>
<path d="M766.60 421.20 L776.60 419.10 L776.60 423.30 Z" fill="#3a3434"/>
<text x="741" y="417.5" font-size="23" text-anchor="middle" fill="#1e1a1a" stroke="#1e1a1a" stroke-width="0.3">2</text>
<line x1="825.60" y1="348.50" x2="825.60" y2="549.00" stroke="#3a3434" stroke-width="1.35" />
<path d="M825.60 481.60 L827.70 491.60 L823.50 491.60 Z" fill="#3a3434"/>
<path d="M825.60 548.20 L823.50 538.20 L827.70 538.20 Z" fill="#3a3434"/>
<text x="820.2" y="376" font-size="22.5" text-anchor="middle" fill="#1e1a1a" stroke="#1e1a1a" stroke-width="0.3" transform="rotate(-90 820.2 376)" letter-spacing="1.1">&#934;24-0.05</text>
<text x="856.5" y="504" font-size="22.5" text-anchor="middle" fill="#1e1a1a" stroke="#1e1a1a" stroke-width="0.3" transform="rotate(-90 856.5 504)" letter-spacing="2">-0.02</text>
<text x="876.5" y="511" font-size="22.5" text-anchor="middle" fill="#1e1a1a" stroke="#1e1a1a" stroke-width="0.3" transform="rotate(-90 876.5 511)" letter-spacing="2">61-0.05</text>
<line x1="881.00" y1="429.80" x2="881.00" y2="600.00" stroke="#3a3434" stroke-width="1.35" />
<path d="M881.00 429.80 L883.10 439.80 L878.90 439.80 Z" fill="#3a3434"/>
<path d="M881.00 600.00 L878.90 590.00 L883.10 590.00 Z" fill="#3a3434"/>
<line x1="660.00" y1="429.80" x2="884.00" y2="429.80" stroke="#2a2222" stroke-width="1.3" />
<line x1="684.50" y1="600.00" x2="884.00" y2="600.00" stroke="#3a3434" stroke-width="1.35" />
<line x1="674.50" y1="481.60" x2="829.00" y2="481.60" stroke="#2a2222" stroke-width="1.1" />
<line x1="673.00" y1="548.20" x2="829.00" y2="548.20" stroke="#2a2222" stroke-width="1.3" />
<line x1="716.50" y1="480.80" x2="786.40" y2="626.40" stroke="#3a3434" stroke-width="1.35" />
<line x1="786.40" y1="626.40" x2="819.00" y2="626.40" stroke="#3a3434" stroke-width="1.35" />
<path d="M716.50 480.80 L723.33 489.72 L719.19 491.71 Z" fill="#3a3434"/>
<text x="880" y="632" font-size="23" text-anchor="middle" fill="#1e1a1a" stroke="#1e1a1a" stroke-width="0.3">A8X7X25</text>
<line x1="186.00" y1="610.00" x2="186.00" y2="779.00" stroke="#3a3434" stroke-width="1.35" />
<line x1="186.00" y1="774.00" x2="766.60" y2="774.00" stroke="#3a3434" stroke-width="1.45" />
<path d="M186.00 774.00 L196.00 771.90 L196.00 776.10 Z" fill="#3a3434"/>
<path d="M766.60 774.00 L756.60 776.10 L756.60 771.90 Z" fill="#3a3434"/>
<text x="468" y="770" font-size="23" text-anchor="middle" fill="#1e1a1a" stroke="#1e1a1a" stroke-width="0.3">207.6</text>
<line x1="186.00" y1="738.00" x2="433.60" y2="738.00" stroke="#3a3434" stroke-width="1.45" />
<path d="M186.00 738.00 L196.00 735.90 L196.00 740.10 Z" fill="#3a3434"/>
<path d="M433.60 738.00 L423.60 740.10 L423.60 735.90 Z" fill="#3a3434"/>
<text x="301" y="735.5" font-size="23" text-anchor="middle" fill="#1e1a1a" stroke="#1e1a1a" stroke-width="0.3">88.3</text>
<line x1="318.60" y1="641.00" x2="318.60" y2="712.00" stroke="#3a3434" stroke-width="1.0" />
<line x1="548.00" y1="641.00" x2="548.00" y2="712.00" stroke="#3a3434" stroke-width="1.0" />
<line x1="318.60" y1="708.30" x2="548.00" y2="708.30" stroke="#3a3434" stroke-width="1.45" />
<path d="M318.60 708.30 L328.60 706.20 L328.60 710.40 Z" fill="#3a3434"/>
<path d="M548.00 708.30 L538.00 710.40 L538.00 706.20 Z" fill="#3a3434"/>
<text x="434.5" y="704" font-size="23" text-anchor="middle" fill="#1e1a1a" stroke="#1e1a1a" stroke-width="0.3">82</text>
<line x1="287.00" y1="685.40" x2="409.00" y2="685.40" stroke="#3a3434" stroke-width="1.35" />
<path d="M309.60 685.40 L299.60 687.50 L299.60 683.30 Z" fill="#3a3434"/>
<path d="M328.40 685.40 L338.40 683.30 L338.40 687.50 Z" fill="#3a3434"/>
<line x1="309.60" y1="677.00" x2="309.60" y2="690.00" stroke="#3a3434" stroke-width="1.0" />
<line x1="328.40" y1="677.00" x2="328.40" y2="690.00" stroke="#3a3434" stroke-width="1.0" />
<text x="384.5" y="681.5" font-size="23" text-anchor="middle" fill="#1e1a1a" stroke="#1e1a1a" stroke-width="0.3">4-M8</text>
<line x1="566.00" y1="640.60" x2="632.00" y2="640.60" stroke="#3a3434" stroke-width="1.35" />
<line x1="565.50" y1="677.20" x2="632.00" y2="677.20" stroke="#3a3434" stroke-width="1.35" />
<line x1="629.00" y1="640.60" x2="629.00" y2="677.20" stroke="#3a3434" stroke-width="1.35" />
<path d="M629.00 640.60 L631.10 650.60 L626.90 650.60 Z" fill="#3a3434"/>
<path d="M629.00 677.20 L626.90 667.20 L631.10 667.20 Z" fill="#3a3434"/>
<text x="624" y="662.2" font-size="23" text-anchor="middle" fill="#1e1a1a" stroke="#1e1a1a" stroke-width="0.3" transform="rotate(-90 624 662.2)">13</text>
<line x1="489.00" y1="744.50" x2="636.00" y2="744.50" stroke="#3a3434" stroke-width="1.35" />
<line x1="636.00" y1="573.60" x2="636.00" y2="744.50" stroke="#3a3434" stroke-width="1.35" />
<text x="599" y="738.6" font-size="23" text-anchor="middle" fill="#1e1a1a" stroke="#1e1a1a" stroke-width="0.3">G1/2"</text>
</svg></body></html>
